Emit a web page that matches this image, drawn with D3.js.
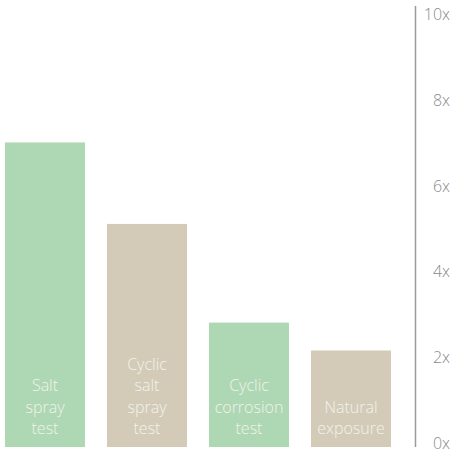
<!DOCTYPE html>
<html>
<head>
<meta charset="utf-8">
<script src="https://cdn.jsdelivr.net/npm/d3@7"></script>
<style>
  html, body { margin: 0; padding: 0; background: #fff; }
  svg { display: block; font-family: "Open Sans", "DejaVu Sans", sans-serif; }
</style>
</head>
<body>
<svg width="453" height="451"></svg>
<script>
// chart data
var categories = ["Salt spray test", "Cyclic salt spray test", "Cyclic corrosion test", "Natural exposure"];
var labelLines = [["Salt", "spray", "test"], ["Cyclic", "salt", "spray", "test"], ["Cyclic", "corrosion", "test"], ["Natural", "exposure"]];
var values = [7.1, 5.2, 2.9, 2.25];
var barColors = ["#aed8b3", "#d3cbb8", "#aed8b3", "#d3cbb8"];
var tickValues = [0, 2, 4, 6, 8, 10];
var tickLabels = ["0x", "2x", "4x", "6x", "8x", "10x"];

var svg = d3.select("svg");
var baseY = 447, topY = 18;

var x = d3.scaleBand()
    .domain(categories)
    .range([5, 391])
    .paddingInner(22 / 102)
    .paddingOuter(0);

var y = d3.scaleLinear().domain([0, 10]).range([baseY, topY]);

// bars
var bar = svg.selectAll(".bar")
    .data(categories)
    .enter().append("g")
    .attr("class", "bar");

bar.append("rect")
    .attr("x", function (d) { return x(d); })
    .attr("y", function (d, i) { return y(values[i]); })
    .attr("width", x.bandwidth())
    .attr("height", function (d, i) { return baseY - y(values[i]); })
    .attr("fill", function (d, i) { return barColors[i]; });

// labels inside bars, stacked up from the bottom
bar.each(function (d, i) {
    var lines = labelLines[i];
    var g = d3.select(this);
    lines.forEach(function (t, j) {
        g.append("text")
            .attr("x", x(d) + x.bandwidth() / 2)
            .attr("y", baseY - 13 - (lines.length - 1 - j) * 21.5)
            .attr("text-anchor", "middle")
            .attr("fill", "#f2f2ec")
            .style("font-size", "16px")
            .style("font-weight", 300)
            .text(t);
    });
});

// right axis
svg.append("line")
    .attr("x1", 415.5).attr("x2", 415.5)
    .attr("y1", 6).attr("y2", baseY)
    .attr("stroke", "#9a9a9a")
    .attr("stroke-width", 1.5);

svg.selectAll(".tick-label")
    .data(tickValues)
    .enter().append("text")
    .attr("class", "tick-label")
    .attr("x", 450)
    .attr("y", function (d) { return y(d) + 2; })
    .attr("text-anchor", "end")
    .attr("fill", "#8a8a8a")
    .style("font-size", "16px")
    .style("font-weight", 300)
    .text(function (d, i) { return tickLabels[i]; });
</script>
</body>
</html>
